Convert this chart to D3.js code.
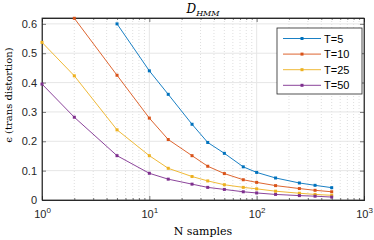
<!DOCTYPE html>
<html>
<head>
<meta charset="utf-8">
<script src="https://cdn.jsdelivr.net/npm/d3@7"></script>
<style>
  body { margin: 0; background: #fff; }
  svg { display: block; }
  .tick text { font-family: "Liberation Sans", Arial, sans-serif; }
</style>
</head>
<body>
<div id="chart"></div>
<script>
// data
var seriesNames = ["T=5", "T=10", "T=25", "T=50"];
var colors = ["#0072BD", "#D95319", "#EDB120", "#7E2F8E"];

var nT5  = [5, 10, 15, 25, 35, 50, 75, 100, 150, 250, 350, 500];
var vT5  = [0.600, 0.440, 0.360, 0.258, 0.196, 0.159, 0.113, 0.094, 0.075, 0.058, 0.050, 0.042];
var nT10 = [2, 5, 10, 15, 25, 35, 50, 75, 100, 150, 250, 350, 500];
var vT10 = [0.619, 0.425, 0.279, 0.206, 0.151, 0.115, 0.090, 0.069, 0.060, 0.049, 0.039, 0.033, 0.028];
var nT25 = [1, 2, 5, 10, 15, 25, 35, 50, 75, 100, 150, 250, 350, 500];
var vT25 = [0.537, 0.423, 0.239, 0.151, 0.108, 0.080, 0.065, 0.052, 0.043, 0.038, 0.030, 0.023, 0.019, 0.016];
var nT50 = [1, 2, 5, 10, 15, 25, 35, 50, 75, 100, 150, 250, 350, 500];
var vT50 = [0.395, 0.282, 0.151, 0.091, 0.071, 0.054, 0.043, 0.036, 0.028, 0.024, 0.019, 0.015, 0.013, 0.010];

var yTicks = [0, 0.1, 0.2, 0.3, 0.4, 0.5, 0.6];
var xTicks = [1, 10, 100, 1000];

var margin = {top: 18, right: 10, bottom: 40, left: 42},
    W = 374, H = 240,
    width = W - margin.left - margin.right,
    height = H - margin.top - margin.bottom;

var serif = "DejaVu Serif, Liberation Serif, serif";

var data = [
  {name: seriesNames[0], n: nT5, v: vT5},
  {name: seriesNames[1], n: nT10, v: vT10},
  {name: seriesNames[2], n: nT25, v: vT25},
  {name: seriesNames[3], n: nT50, v: vT50}
].map(function(s, i) {
  return {name: s.name, color: colors[i], pts: s.n.map(function(n, j) { return {n: n, v: s.v[j]}; })};
});

var svg = d3.select("#chart").append("svg")
    .attr("width", W)
    .attr("height", H);

var x = d3.scaleLog().domain([1, 1000]).range([0, width]);
var y = d3.scaleLinear().domain([0, 0.62]).range([height, 0]);

var g = svg.append("g")
    .attr("transform", "translate(" + margin.left + "," + margin.top + ")");

// minor x grid (dotted)
var minors = [];
[1, 10, 100].forEach(function(d) {
  for (var k = 2; k <= 9; k++) minors.push(d * k);
});
g.selectAll(".minor").data(minors).enter().append("line")
    .attr("x1", function(d) { return x(d); })
    .attr("x2", function(d) { return x(d); })
    .attr("y1", 0).attr("y2", height)
    .attr("stroke", "#d0d0d0")
    .attr("stroke-width", 0.7)
    .attr("stroke-dasharray", "1,2");

// major grid
g.selectAll(".gx").data(xTicks.slice(1, -1)).enter().append("line")
    .attr("x1", function(d) { return x(d); })
    .attr("x2", function(d) { return x(d); })
    .attr("y1", 0).attr("y2", height)
    .attr("stroke", "#e6e6e6");
g.selectAll(".gy").data(yTicks.slice(1)).enter().append("line")
    .attr("x1", 0).attr("x2", width)
    .attr("y1", function(d) { return y(d); })
    .attr("y2", function(d) { return y(d); })
    .attr("stroke", "#e6e6e6");

// axes
var xAxis = d3.axisBottom(x).tickValues(xTicks).tickSize(-4).tickPadding(7)
    .tickFormat(function(d) { return ""; });
var gx = g.append("g").attr("transform", "translate(0," + height + ")").call(xAxis);
gx.selectAll(".tick text").each(function(d) {
  var t = d3.select(this);
  var e = Math.round(Math.log10(d));
  t.append("tspan").text("10").attr("font-size", 11);
  t.append("tspan").text(e).attr("font-size", 8).attr("dy", -5);
});
gx.selectAll(".tick text").attr("fill", "#262626").attr("dy", "1.1em");

var xMinor = d3.axisBottom(x).tickValues(minors).tickSize(-2).tickFormat("");
g.append("g").attr("transform", "translate(0," + height + ")").call(xMinor);
g.append("g").call(d3.axisTop(x).tickValues(xTicks).tickSize(-4).tickFormat(""));
g.append("g").call(d3.axisTop(x).tickValues(minors).tickSize(-2).tickFormat(""));

var yAxis = d3.axisLeft(y).tickValues(yTicks).tickSize(-4).tickPadding(5)
    .tickFormat(function(d) { return d === 0 ? "0" : d3.format(".1f")(d); });
g.append("g").call(yAxis).selectAll(".tick text")
    .attr("font-size", 11).attr("fill", "#262626");
g.append("g").attr("transform", "translate(" + width + ",0)")
    .call(d3.axisRight(y).tickValues(yTicks).tickSize(-4).tickFormat(""));

g.selectAll(".domain").attr("stroke", "#262626").attr("stroke-width", 0.8);
g.selectAll(".tick line").attr("stroke", "#262626").attr("stroke-width", 0.6);

// box
g.append("rect").attr("width", width).attr("height", height)
    .attr("fill", "none").attr("stroke", "#262626").attr("stroke-width", 0.8);

// lines
var line = d3.line()
    .x(function(d) { return x(d.n); })
    .y(function(d) { return y(d.v); });

data.forEach(function(s) {
  g.append("path")
      .datum(s.pts)
      .attr("fill", "none")
      .attr("stroke", s.color)
      .attr("stroke-width", 0.9)
      .attr("d", line);
  g.selectAll(null).data(s.pts).enter().append("rect")
      .attr("x", function(d) { return x(d.n) - 1.5; })
      .attr("y", function(d) { return y(d.v) - 1.5; })
      .attr("width", 3).attr("height", 3)
      .attr("fill", s.color);
});

// title
var title = svg.append("text")
    .attr("x", margin.left + width / 2)
    .attr("y", 13)
    .attr("text-anchor", "middle")
    .attr("font-family", serif)
    .attr("font-style", "italic")
    .attr("fill", "#000");
title.append("tspan").text("D").attr("font-size", 12);
title.append("tspan").text("HMM").attr("font-size", 8).attr("dy", 3);

// axis labels
svg.append("text")
    .attr("x", margin.left + width / 2)
    .attr("y", 235)
    .attr("text-anchor", "middle")
    .attr("font-family", serif)
    .attr("font-size", 11)
    .attr("fill", "#000")
    .text("N samples");

svg.append("text")
    .attr("transform", "translate(12,95) rotate(-90)")
    .attr("text-anchor", "middle")
    .attr("font-family", serif)
    .attr("font-size", 10)
    .attr("fill", "#000")
    .text("\u03f5 (trans distortion)");

// legend
var lg = svg.append("g").attr("transform", "translate(277,28)");
lg.append("rect").attr("width", 85).attr("height", 66)
    .attr("fill", "#fff").attr("stroke", "#262626").attr("stroke-width", 0.8);
data.forEach(function(s, i) {
  var yy = 10.5 + i * 15.6;
  lg.append("line").attr("x1", 6).attr("x2", 44).attr("y1", yy).attr("y2", yy)
      .attr("stroke", s.color).attr("stroke-width", 0.9);
  lg.append("rect").attr("x", 23.5).attr("y", yy - 1.5).attr("width", 3).attr("height", 3)
      .attr("fill", s.color);
  lg.append("text").attr("x", 47).attr("y", yy + 4)
      .attr("font-family", "Liberation Sans, Arial, sans-serif")
      .attr("font-size", 11).attr("fill", "#000")
      .text(s.name);
});
</script>
</body>
</html>
